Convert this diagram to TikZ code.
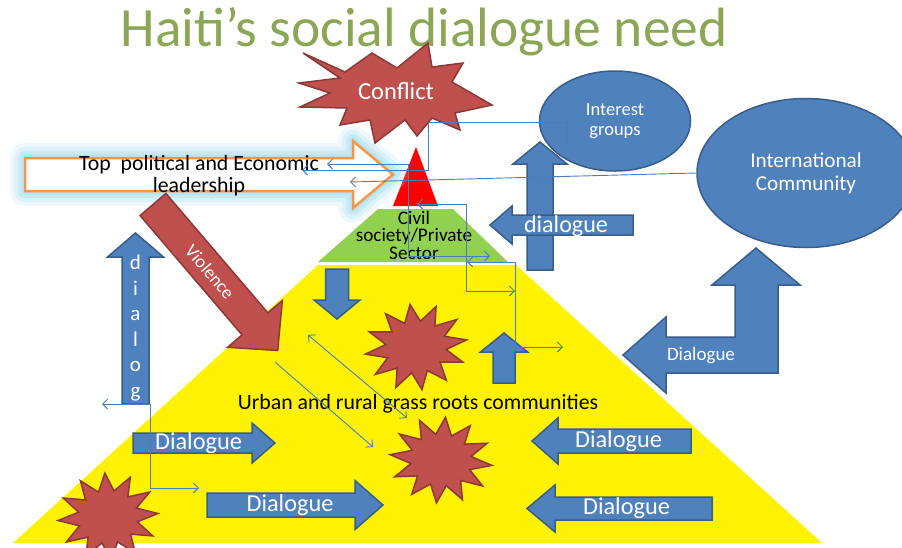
\documentclass[tikz,border=0pt]{standalone}
\usepackage{fontspec}
\setmainfont{Carlito}
\usetikzlibrary{shapes,arrows.meta,calc,positioning}

\definecolor{blockBlue}{HTML}{4F81BD}
\definecolor{blockEdge}{HTML}{385D8A}
\definecolor{burstRed}{HTML}{C0504D}
\definecolor{burstEdge}{HTML}{8C3836}
\definecolor{titleGreen}{HTML}{8BA756}
\definecolor{leafGreen}{HTML}{92D050}
\definecolor{leaderOrange}{HTML}{F79646}
\definecolor{glowBlue}{HTML}{A8DDF3}
\definecolor{linkBlue}{HTML}{4A7EBB}

\tikzset{
    blockarrow/.style={fill=blockBlue,draw=blockEdge,line width=1.5pt},
    burst/.style={fill=burstRed,draw=burstEdge,line width=1.5pt},
    link/.style={draw=linkBlue,line width=0.9pt},
    whitetext/.style={text=white,inner sep=0pt},
    bubble/.style={ellipse,fill=blockBlue,draw=blockEdge,line width=1.5pt,text=white,align=center},
}

\newcommand\BLOCKARROW[8] {
    % #1 name, #2 tail, #3 angle, #4 length, #5 body, #6 head, #7 head length, #8 style
    \begin{scope}[shift={#2},rotate=#3]
        \path[#8] (0,-#5/2) -- ({#4-#7},-#5/2) -- ({#4-#7},-#6/2) -- (#4,0)
            -- ({#4-#7},#6/2) -- ({#4-#7},#5/2) -- (0,#5/2) -- cycle;
        \coordinate (#1) at ({(#4-#7)/2},0);
    \end{scope}
}

\newcommand\STARBURST[5] {
    % #1 name, #2 centre, #3 x radius, #4 y radius, #5 turn
    \begin{scope}[shift={#2},rotate=#5]
        \coordinate (#1) at (0,0);
        \path[burst] (0:#3 and #4)
            \foreach \k in {0,...,11} { -- ({\k*30+15}:{0.6*#3} and {0.6*#4}) -- ({\k*30+30}:#3 and #4) } -- cycle;
    \end{scope}
}

\begin{document}
\begin{tikzpicture}[x=1pt,y=-1pt,>={Straight Barb[length=5pt,width=10pt]}]
    \useasboundingbox (0,0) rectangle (902,547);

    % Title.
    \node[anchor=base,text=titleGreen,font=\fontsize{55.4}{60}\selectfont] (title) at (424,46) {Haiti’s social dialogue need};

    % Pyramid.
    \path[fill=yellow] (318,265) -- (516,265) -- (822,543) -- (13,543) -- cycle;
    \path[fill=leafGreen] (378,209) -- (453,209) -- (508,262) -- (318,262) -- cycle;
    \path[fill=red] (416,147) -- (438,206) -- (393,206) -- cycle;
    \node[font=\fontsize{19.2}{17.5}\selectfont,align=center,inner sep=0pt] (civil) at (414,235) {Civil\\society/Private\\Sector};

    % Leadership arrow with its glow.
    \foreach \w/\o in {30/0.18,22/0.28,14/0.38,7/0.5}
    {
        \BLOCKARROW{glow}{(25,174.5)}{0}{368}{33}{67}{40}{draw=glowBlue,line width=\w pt,line join=round,draw opacity=\o}
    }
    \BLOCKARROW{leader}{(25,174.5)}{0}{368}{33}{67}{40}{fill=white,draw=leaderOrange,line width=2.5pt}
    \node[font=\fontsize{21.8}{22}\selectfont,align=center,inner sep=0pt] (leadertext) at (199,176) {Top\ \ political and Economic\\leadership};

    % Conflict.
    \path[burst] (303,53) -- (345,72) -- (372,53) -- (397,68) -- (428,43) -- (432,67) -- (463,63)
        -- (452,82) -- (492,105) -- (455,113) -- (460,130) -- (432,118) -- (417,136) -- (405,120)
        -- (375,143) -- (370,120) -- (340,125) -- (347,108) -- (300,107) -- (330,93) -- (299,83)
        -- (340,78) -- cycle;
    \node[whitetext,font=\fontsize{24.5}{26}\selectfont] (conflict) at (396,91) {Conflict};

    % Violence.
    \BLOCKARROW{violence}{(153,204.5)}{-49.5}{192}{34}{72}{35}{burst}
    \node[whitetext,rotate=-49.5,font=\fontsize{18.5}{20}\selectfont] (violencetext) at (210,272) {Violence};

    % Outside actors.
    \node[bubble,minimum width=151pt,minimum height=100pt,font=\fontsize{18.5}{20.5}\selectfont] (interest) at (615,121) {Interest\\groups};
    \node[bubble,minimum width=218pt,minimum height=149pt,font=\fontsize{21.2}{23}\selectfont] (intl) at (806,173) {International\\Community};

    % Dialogue arrows.
    \BLOCKARROW{upIG}{(540,270)}{90}{128}{26}{54}{22}{blockarrow}
    \BLOCKARROW{dlgTop}{(633,225)}{180}{143}{20}{38}{22}{blockarrow}
    \node[whitetext,font=\fontsize{24.1}{26}\selectfont] (dlgToptext) at (566,226) {dialogue};
    \path[blockarrow] (623,355) -- (666,317) -- (666,337) -- (735,337) -- (735,285) -- (712,285)
        -- (756,248) -- (800,285) -- (778,285) -- (778,373) -- (666,373) -- (666,393) -- cycle;
    \node[whitetext,font=\fontsize{19}{21}\selectfont] (bendtext) at (701,356) {Dialogue};
    \BLOCKARROW{downS}{(337,269)}{-90}{50}{23}{46}{19}{blockarrow}
    \BLOCKARROW{upS}{(504,383)}{90}{50}{22}{47}{19}{blockarrow}
    \BLOCKARROW{dialog}{(135.5,404)}{90}{171}{27}{56}{24}{blockarrow}
    \node[whitetext,align=center,font=\fontsize{21}{25.5}\selectfont] (dialogtext) at (135.5,328) {d\\i\\a\\l\\o\\g};
    \BLOCKARROW{bl1}{(133,443)}{0}{142}{20}{40}{23}{blockarrow}
    \BLOCKARROW{bl2}{(207,505)}{0}{176}{24}{49}{28}{blockarrow}
    \BLOCKARROW{br1}{(691,441)}{180}{159}{24}{46}{26}{blockarrow}
    \BLOCKARROW{br2}{(712,508.5)}{180}{185}{23}{47}{28}{blockarrow}
    \node[whitetext,font=\fontsize{24.3}{26}\selectfont] (bl1text) at ([xshift=6pt]bl1) {Dialogue};
    \node[whitetext,font=\fontsize{24.3}{26}\selectfont] (bl2text) at ([xshift=9pt]bl2) {Dialogue};
    \node[whitetext,font=\fontsize{24.3}{26}\selectfont] (br1text) at ([xshift=-6pt]br1) {Dialogue};
    \node[whitetext,font=\fontsize{24.3}{26}\selectfont] (br2text) at ([xshift=-7pt]br2) {Dialogue};

    % Unrest in the communities.
    \STARBURST{burstA}{(416,347)}{51}{43}{8}
    \STARBURST{burstB}{(441,460)}{51}{43}{-6}
    \STARBURST{burstC}{(108,517)}{50}{44}{4}
    \node[font=\fontsize{21.8}{24}\selectfont,inner sep=0pt] (urban) at (418,404) {Urban and rural grass roots communities};

    % Links.
    \coordinate (aStart) at (567,142);
    \coordinate (aTurn) at (428,122);
    \coordinate (aEnd) at (302,170);
    \draw[link,->] (aStart) |- (aTurn) |- (aEnd);
    \coordinate (bEnd) at (327,164);
    \coordinate (bTurn) at (408,256);
    \coordinate (bTip) at (490,256);
    \draw[link,<->] (bEnd) -| (bTurn) -- (bTip);
    \coordinate (cEnd) at (350,182);
    \draw[link,->] (intl.west) -- (cEnd);
    \coordinate (dEnd) at (417,204);
    \coordinate (dTurn) at (466,291);
    \coordinate (dTip) at (515,291);
    \draw[link,<->] (dEnd) -| (dTurn) -- (dTip);
    \coordinate (eEnd) at (467,262);
    \coordinate (eTurn) at (515,347);
    \coordinate (eTip) at (563,347);
    \draw[link,<->] (eEnd) -| (eTurn) -- (eTip);
    \coordinate (fEnd) at (102,404);
    \coordinate (fTurn) at (150,488);
    \coordinate (fTip) at (199,488);
    \draw[link,<->] (fEnd) -| (fTurn) -- (fTip);
    \coordinate (gEnd) at (308,335);
    \coordinate (gTip) at (407,418);
    \draw[link,<->] (gEnd) -- (gTip);
    \coordinate (hEnd) at (275,362);
    \coordinate (hTip) at (373,447);
    \draw[link,->] (hEnd) -- (hTip);

\end{tikzpicture}
\end{document}
